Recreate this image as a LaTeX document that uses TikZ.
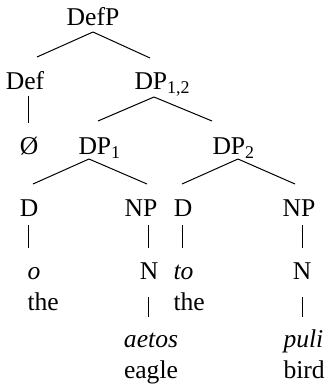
\documentclass[tikz,border=0pt]{standalone}
\usepackage{fontspec}
\setmainfont{Liberation Serif}
\usetikzlibrary{calc}

\begin{document}
\begin{tikzpicture}[x=0.5pt, y=-0.5pt, every node/.style={inner sep=0pt, font=\fontsize{12.8}{15.5}\selectfont}, line width=0.5pt]
    \useasboundingbox (0,0) rectangle (330,384);
    % labels
    \node[anchor=base] (defp) at (93,26) {DefP};
    \node[anchor=base] (def) at (25,90) {Def};
    \node[anchor=base west] (dp12) at (134,90) {DP\textsubscript{1,2}};
    \node[anchor=base] (empty) at (29,155) {Ø};
    \node[anchor=base west] (dp1) at (78,155) {DP\textsubscript{1}};
    \node[anchor=base west] (dp2) at (212,155) {DP\textsubscript{2}};
    \node[anchor=base] (d1) at (29,217) {D};
    \node[anchor=base] (np1) at (141,217) {NP};
    \node[anchor=base] (d2) at (183,217) {D};
    \node[anchor=base] (np2) at (299,217) {NP};
    \node[anchor=base west, align=left] (o) at (27,310) {\textit{o}\\the};
    \node[anchor=base] (n1) at (149,279) {N};
    \node[anchor=base west, align=left] (to) at (173,310) {\textit{to}\\the};
    \node[anchor=base] (n2) at (302,279) {N};
    \node[anchor=base, align=center] (aetos) at (151,378) {\textit{aetos}\\eagle};
    \node[anchor=base west, align=left] (puli) at (283,378) {\textit{puli}\\bird};
    % branches
    \draw ($(defp.base)+(0,6)$) -- ($(def.base)+(12,-33)$);
    \draw ($(defp.base)+(0,6)$) -- ($(dp12.base west)+(16,-32)$);
    \draw ($(def.base)+(3,6)$) -- ($(empty.base)+(-1,-32)$);
    \draw ($(dp12.base west)+(20,7)$) -- ($(dp1.base west)+(20,-34)$);
    \draw ($(dp12.base west)+(20,7)$) -- ($(dp2.base west)+(0,-34)$);
    \draw ($(dp1.base west)+(11,4)$) -- ($(d1.base)+(4,-33)$);
    \draw ($(dp1.base west)+(11,4)$) -- ($(np1.base)+(6,-33)$);
    \draw ($(dp2.base west)+(26,4)$) -- ($(d2.base)+(-1,-33)$);
    \draw ($(dp2.base west)+(26,4)$) -- ($(np2.base)+(-4,-33)$);
    \draw ($(d1.base)+(-1,8)$) -- ($(o.base west)+(1,-62)$);
    \draw ($(np1.base)+(7,8)$) -- ($(n1.base)+(-1,-31)$);
    \draw ($(d2.base)+(-1,8)$) -- ($(to.base west)+(9,-62)$);
    \draw ($(np2.base)+(3,8)$) -- ($(n2.base)+(0,-31)$);
    \draw ($(n1.base)+(-1,18)$) -- ($(aetos.base)+(-3,-61)$);
    \draw ($(n2.base)+(0,18)$) -- ($(puli.base west)+(19,-61)$);
\end{tikzpicture}
\end{document}
